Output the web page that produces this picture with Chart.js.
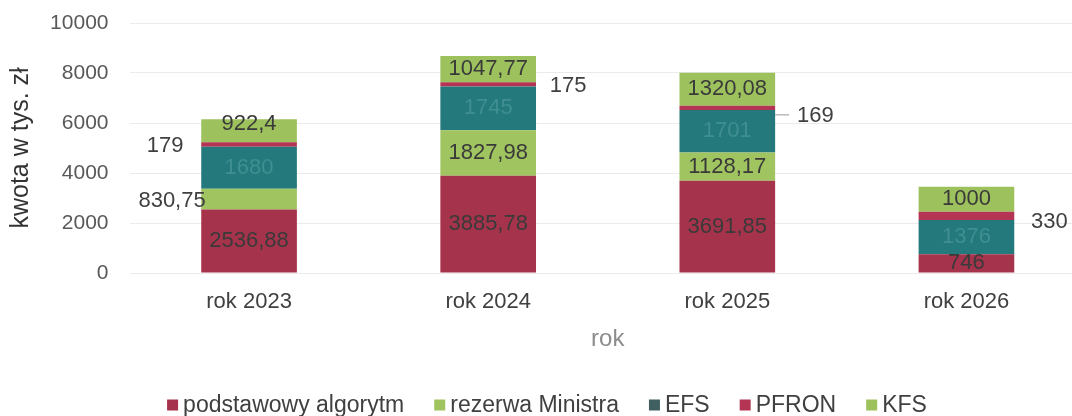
<!DOCTYPE html>
<html>
<head>
<meta charset="utf-8">
<script src="https://cdn.jsdelivr.net/npm/chart.js@4/dist/chart.umd.min.js"></script>
<style>
  html, body { margin: 0; padding: 0; background: #fff; overflow: hidden; }
  #chart { display: block; }
</style>
</head>
<body>
<canvas id="chart" width="1100" height="416"></canvas>
<script>
// Data (tys. zł)
const categories = ["rok 2023", "rok 2024", "rok 2025", "rok 2026"];
const podstawowy = [2536.88, 3885.78, 3691.85, 746];
const rezerwa = [830.75, 1827.98, 1128.17, null];
const efs = [1680, 1745, 1701, 1376];
const pfron = [179, 175, 169, 330];
const kfs = [922.4, 1047.77, 1320.08, 1000];
const yTicks = [0, 2000, 4000, 6000, 8000, 10000];

const FONT = '"Liberation Sans", Arial, sans-serif';

// labels that sit next to the bar instead of inside it
const outside = {
  "3:0": { dx: -84, dy: 1 },
  "1:0": { dx: -77, dy: 2 },
  "3:1": { dx: 80, dy: 2 },
  "3:2": { dx: 88, dy: 8, line: true },
  "3:3": { dx: 83, dy: 6 },
  "4:0": { dx: 0, dy: -7, inside: true }
};

const fmt = v => String(v).replace(".", ",");

const segmentLabels = {
  id: "segmentLabels",
  afterDatasetsDraw(chart) {
    const ctx = chart.ctx;
    ctx.save();
    ctx.font = "22px " + FONT;
    ctx.textAlign = "center";
    ctx.textBaseline = "middle";
    chart.data.datasets.forEach((ds, di) => {
      chart.getDatasetMeta(di).data.forEach((bar, i) => {
        const v = ds.data[i];
        if (!v) return;
        let x = bar.x;
        let y = (bar.y + bar.base) / 2;
        let color = ds.labelColor;
        const o = outside[di + ":" + i];
        if (o) {
          if (o.line) {
            ctx.strokeStyle = "#9a9a9a";
            ctx.lineWidth = 1;
            ctx.beginPath();
            ctx.moveTo(bar.x + bar.width / 2, y + o.dy - 1);
            ctx.lineTo(bar.x + bar.width / 2 + 14, y + o.dy - 1);
            ctx.stroke();
          }
          x += o.dx;
          y += o.dy;
          if (!o.inside) color = "#404040";
        }
        ctx.fillStyle = color;
        ctx.fillText(fmt(v), x, y);
      });
    });
    ctx.restore();
  }
};

const bottomLegend = {
  id: "bottomLegend",
  afterDraw(chart) {
    const ctx = chart.ctx;
    const box = 11, gap = 5, spacing = 30, cy = 405;
    ctx.save();
    ctx.font = "23px " + FONT;
    ctx.textBaseline = "middle";
    const items = chart.data.datasets.map(ds => ({
      text: ds.label, color: ds.legendColor || ds.backgroundColor,
      w: box + gap + ctx.measureText(ds.label).width
    }));
    const total = items.reduce((s, it) => s + it.w, 0) + spacing * (items.length - 1);
    let x = 547 - total / 2;
    items.forEach(it => {
      ctx.fillStyle = it.color;
      ctx.fillRect(x, cy - box / 2, box, box);
      ctx.fillStyle = "#404040";
      ctx.fillText(it.text, x + box + gap, cy + 1);
      x += it.w + spacing;
    });
    ctx.restore();
  }
};

new Chart(document.getElementById("chart"), {
  type: "bar",
  data: {
    labels: categories,
    datasets: [
      { label: "podstawowy algorytm", data: podstawowy, backgroundColor: "#a5334b", labelColor: "#3a3a3a" },
      { label: "rezerwa Ministra", data: rezerwa, backgroundColor: "#a0c45f", labelColor: "#3a3a3a" },
      { label: "EFS", data: efs, backgroundColor: "#24797c", legendColor: "#3f5f61", labelColor: "#3f8f91" },
      { label: "PFRON", data: pfron, backgroundColor: "#b43553", labelColor: "#3a3a3a" },
      { label: "KFS", data: kfs, backgroundColor: "#9dc25d", labelColor: "#3a3a3a" }
    ]
  },
  options: {
    responsive: false,
    animation: false,
    devicePixelRatio: 1,
    layout: { padding: { top: 23, right: 14, bottom: 50, left: 0 } },
    datasets: { bar: { barPercentage: 0.4, categoryPercentage: 1 } },
    plugins: {
      legend: { display: false },
      tooltip: { enabled: false }
    },
    scales: {
      x: {
        stacked: true,
        grid: { display: false, drawTicks: false },
        border: { display: false },
        ticks: { color: "#404040", font: { family: FONT, size: 22 }, padding: 16 },
        title: { display: true, text: "rok", color: "#8c8c8c", font: { family: FONT, size: 24 }, padding: { top: 0, bottom: 12 } },
        afterFit(scale) { scale.height = 93; }
      },
      y: {
        stacked: true,
        min: 0,
        max: 10000,
        afterBuildTicks(scale) { scale.ticks = yTicks.map(v => ({ value: v })); },
        grid: { color: "#ebebeb", drawTicks: false },
        border: { display: false },
        ticks: { color: "#595959", font: { family: FONT, size: 21 }, padding: 21, callback: v => String(v) },
        title: { display: true, text: "kwota w tys. zł", color: "#333", font: { family: FONT, size: 25 }, padding: { top: 6, bottom: 0 } },
        afterFit(scale) {
          scale.width = 129.5;
          scale.paddingTop = 0;
          scale.paddingBottom = 0;
        }
      }
    }
  },
  plugins: [segmentLabels, bottomLegend]
});
</script>
</body>
</html>
